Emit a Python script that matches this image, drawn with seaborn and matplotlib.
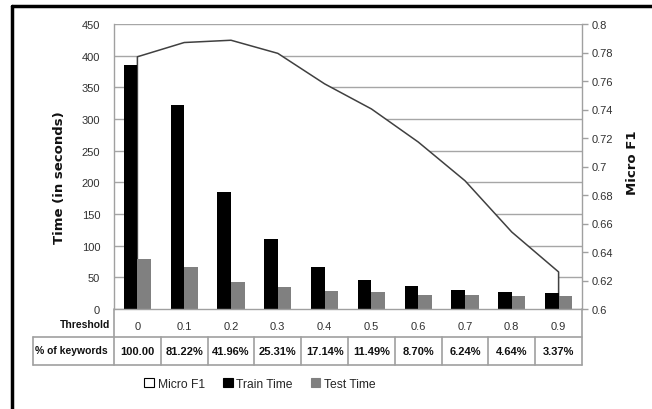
import numpy as np
import pandas as pd
import matplotlib
matplotlib.use("Agg")
import matplotlib.pyplot as plt
import matplotlib.transforms as mtransforms
from matplotlib.lines import Line2D
from matplotlib.patches import Patch
from matplotlib.ticker import FuncFormatter, MultipleLocator
import seaborn as sns

# ---------------- data ----------------
thresholds = ["0", "0.1", "0.2", "0.3", "0.4", "0.5", "0.6", "0.7", "0.8", "0.9"]
pct_keywords = ["100.00", "81.22%", "41.96%", "25.31%", "17.14%", "11.49%",
                "8.70%", "6.24%", "4.64%", "3.37%"]
train_time = [386, 322, 185, 110, 67, 46, 37, 30.5, 26.5, 25]
test_time = [79, 67, 42.5, 34, 28.5, 27, 21.5, 21.5, 20, 20]
micro_f1 = [0.777, 0.787, 0.7886, 0.7794, 0.758, 0.7404, 0.7172, 0.690, 0.654, 0.626]
left_ticks = [0, 50, 100, 150, 200, 250, 300, 350, 400, 450]

df = pd.DataFrame({
    "Threshold": thresholds * 2,
    "Time": train_time + test_time,
    "Series": ["Train Time"] * len(thresholds) + ["Test Time"] * len(thresholds),
})

sns.set_theme(style="white")
plt.rcParams["font.family"] = ["Liberation Sans", "DejaVu Sans"]

W, H = 652, 410
fig = plt.figure(figsize=(W / 100, H / 100), dpi=100)
L, R, B, T = 114 / W, 582 / W, 1 - 310 / H, 1 - 25 / H
ax = fig.add_axes([L, B, R - L, T - B])
ax2 = ax.twinx()
ax.set_zorder(2)
ax2.set_zorder(1)
ax.patch.set_visible(False)
ax2.patch.set_facecolor("white")

grid_c = "#a6a6a6"
spine_c = "#a0a0a0"

# ---- bars (left axis) ----
sns.barplot(data=df, x="Threshold", y="Time", hue="Series", order=thresholds,
            hue_order=["Train Time", "Test Time"],
            palette={"Train Time": "#000000", "Test Time": "#808080"},
            width=0.58, ax=ax, legend=False, linewidth=0, saturation=1)
ax.set_xlim(-0.5, len(thresholds) - 0.5)
ax.set_ylim(0, 450)
ax.set_yticks(left_ticks)
ax.set_xlabel("")
ax.set_ylabel("")
ax.tick_params(axis="y", length=0, pad=10, labelsize=8, labelcolor="#303030")
ax.tick_params(axis="x", length=0, pad=9, labelsize=8, labelcolor="#303030")
ax.xaxis.set_minor_locator(MultipleLocator(1, offset=0.5))
ax.tick_params(axis="x", which="minor", length=4.5, width=1, color=spine_c, direction="out")
for s in ["top", "right"]:
    ax.spines[s].set_visible(False)
for s in ["left", "bottom"]:
    ax.spines[s].set_color(spine_c)
    ax.spines[s].set_linewidth(1)

# ---- Micro F1 area (right axis, behind bars) ----
ymin2, ymax2 = 0.6, 0.8
ax2.set_ylim(ymin2, ymax2)
for v in left_ticks:
    ax2.axhline(ymin2 + v / 450 * (ymax2 - ymin2), color=grid_c, lw=1, zorder=0)
xs = np.arange(len(thresholds))
ax2.fill_between(xs, micro_f1, ymin2, facecolor="white", edgecolor="none", zorder=1)
ox = np.concatenate([[xs[0]], xs, [xs[-1]]])
oy = np.concatenate([[ymin2], micro_f1, [ymin2]])
ax2.plot(ox, oy, color="#404040", lw=1.1, zorder=2)
ax2.set_yticks(np.round(np.arange(0.6, 0.8001, 0.02), 2))
ax2.yaxis.set_major_formatter(FuncFormatter(lambda v, p: f"{v:g}"))
ax2.tick_params(axis="y", length=4, width=1, color=spine_c, direction="out",
                pad=3, labelsize=8, labelcolor="#303030")
for s in ["top", "left", "bottom"]:
    ax2.spines[s].set_visible(False)
ax2.spines["right"].set_color(spine_c)
ax2.spines["right"].set_linewidth(1)
ax2.grid(False)
ax.grid(False)

# ---- data table under the axis ----
blend = mtransforms.blended_transform_factory(ax.transData, fig.transFigure)
y_axis = 1 - 310 / H
y_mid = 1 - 338 / H
y_bot = 1 - 366 / H
tab_kw = dict(color=spine_c, lw=1.2, clip_on=False)
fig.add_artist(Line2D([33 / W, R], [y_mid, y_mid], transform=fig.transFigure, **tab_kw))
fig.add_artist(Line2D([33 / W, R], [y_bot, y_bot], transform=fig.transFigure, **tab_kw))
fig.add_artist(Line2D([33 / W, 33 / W], [y_mid, y_bot], transform=fig.transFigure, **tab_kw))
fig.add_artist(Line2D([L, L], [y_axis, y_bot], transform=fig.transFigure, **tab_kw))
fig.add_artist(Line2D([R, R], [y_axis, y_bot], transform=fig.transFigure, **tab_kw))
for k in range(1, len(thresholds)):
    fig.add_artist(Line2D([k - 0.5, k - 0.5], [y_mid, y_bot], transform=blend, **tab_kw))
for i, p in enumerate(pct_keywords):
    fig.text(i, 1 - 352 / H, p, transform=blend, ha="center", va="center",
             fontsize=8, fontweight="bold", color="#111111")
fig.text(110 / W, 1 - 325 / H, "Threshold", ha="right", va="center",
         fontsize=7.5, fontweight="bold", color="#111111")
fig.text(35 / W, 1 - 351 / H, "% of keywords", ha="left", va="center",
         fontsize=7.5, fontweight="bold", color="#111111")

# ---- axis titles ----
fig.text(60 / W, 1 - 178 / H, "Time (in seconds)", rotation=90, ha="center", va="center",
         fontsize=9.5, fontweight="bold", family=["DejaVu Sans"], color="#111111")
fig.text(632 / W, 1 - 163 / H, "Micro F1", rotation=90, ha="center", va="center",
         fontsize=9.5, fontweight="bold", family=["DejaVu Sans"], color="#111111")

# ---- legend ----
handles = [Patch(facecolor="white", edgecolor="black", lw=0.8),
           Patch(facecolor="black", edgecolor="black", lw=0.8),
           Patch(facecolor="#808080", edgecolor="#808080", lw=0.8)]
fig.legend(handles, ["Micro F1", "Train Time", "Test Time"], loc="center",
           bbox_to_anchor=(260 / W, 1 - 385 / H), ncol=3, frameon=False,
           fontsize=8.7, handlelength=0.8, handleheight=0.8,
           handletextpad=0.3, columnspacing=1.5)

# ---- outer frame (left and top edges) ----
fig.add_artist(Line2D([12 / W, 12 / W], [0, 1 - 7 / H], transform=fig.transFigure,
                      color="black", lw=2.5))
fig.add_artist(Line2D([12 / W, 1], [1 - 7 / H, 1 - 7 / H], transform=fig.transFigure,
                      color="black", lw=2.5))

fig.savefig("out.png", dpi=100, facecolor="white")
